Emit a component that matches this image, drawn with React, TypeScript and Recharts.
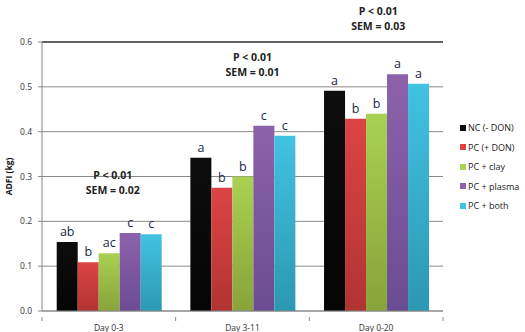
import React from 'react';
import {
  BarChart,
  Bar,
  XAxis,
  YAxis,
  CartesianGrid,
  ReferenceLine,
  ReferenceDot,
  LabelList,
} from 'recharts';

const periods = ['Day 0-3', 'Day 3-11', 'Day 0-20'];
const ncDon = [0.154, 0.342, 0.491];
const pcDon = [0.109, 0.275, 0.429];
const pcClay = [0.129, 0.3, 0.44];
const pcPlasma = [0.174, 0.413, 0.528];
const pcBoth = [0.171, 0.391, 0.507];

const ncLetters = ['ab', 'a', 'a'];
const pcLetters = ['b', 'b', 'b'];
const clayLetters = ['ac', 'b', 'b'];
const plasmaLetters = ['c', 'c', 'a'];
const bothLetters = ['c', 'c', 'a'];

const pValues = ['P < 0.01', 'P < 0.01', 'P < 0.01'];
const semValues = ['SEM = 0.02', 'SEM = 0.01', 'SEM = 0.03'];
const noteY = [0.302, 0.565, 0.667];
const yTicks = [0, 0.1, 0.2, 0.3, 0.4, 0.5, 0.6];

const seriesNames = ['NC (- DON)', 'PC (+ DON)', 'PC + clay', 'PC + plasma', 'PC + both'];
const seriesTop = ['#0d0d0d', '#dc4444', '#a9d152', '#8c62ab', '#42c2e2'];
const seriesBottom = ['#050505', '#b23333', '#88a33a', '#6b4c92', '#2b98b2'];

const data = periods.map((p, i) => ({
  period: p,
  nc: ncDon[i],
  pc: pcDon[i],
  clay: pcClay[i],
  plasma: pcPlasma[i],
  both: pcBoth[i],
  ncL: ncLetters[i],
  pcL: pcLetters[i],
  clayL: clayLetters[i],
  plasmaL: plasmaLetters[i],
  bothL: bothLetters[i],
}));

const keys = ['nc', 'pc', 'clay', 'plasma', 'both'];

const font = '"Open Sans", sans-serif';

const XTick = (props: any) => {
  const { x, y, payload, index } = props;
  const half = payload.offset || 66.8;
  return (
    <g>
      <line x1={x - half} x2={x - half} y1={y - 2} y2={y + 2} stroke="#888" />
      {index === periods.length - 1 && (
        <line x1={x + half} x2={x + half} y1={y - 2} y2={y + 2} stroke="#888" />
      )}
      <text x={x} y={y + 12} textAnchor="middle" fontSize={8.5} fill="#333" fontFamily={font}>
        {payload.value}
      </text>
    </g>
  );
};

const Note = (i: number) => (props: any) => {
  const { viewBox } = props;
  const cx = viewBox.x + (i === 0 ? 4 : i === 1 ? 10 : 2);
  return (
    <text x={cx} y={viewBox.y} textAnchor="middle" fontSize={10.5} fontWeight="bold" fill="#222" fontFamily={font}>
      <tspan x={cx} dy={3}>{pValues[i]}</tspan>
      <tspan x={cx} dy={15}>{semValues[i]}</tspan>
    </text>
  );
};

export default function App() {
  return (
    <div style={{ position: 'absolute', left: 0, top: 0, width: 525, height: 332, background: '#fff' }}>
      <BarChart
        width={525}
        height={332}
        data={data}
        margin={{ top: 42, right: 82, bottom: 0, left: 0 }}
        barCategoryGap="11%"
        barGap={0}
      >
        <defs>
          {keys.map((k, i) => (
            <linearGradient key={k} id={`g-${k}`} x1="0" y1="0" x2="0" y2="1">
              <stop offset="0%" stopColor={seriesTop[i]} />
              <stop offset="100%" stopColor={seriesBottom[i]} />
            </linearGradient>
          ))}
        </defs>
        <CartesianGrid vertical={false} stroke="#8a8a8a" />
        <XAxis
          dataKey="period"
          height={21}
          stroke="#888"
          tickLine={false}
          tick={<XTick />}
          interval={0}
        />
        <XAxis xAxisId="top" orientation="top" height={0} stroke="#000" tick={false} tickLine={false} />
        <YAxis
          domain={[0, 0.6]}
          ticks={yTicks}
          width={42}
          stroke="#888"
          tickSize={4}
          tickMargin={6}
          tickFormatter={(v: number) => v.toFixed(1)}
          tick={{ fontSize: 8.5, fill: '#333', fontFamily: font }}
          label={{
            value: 'ADFI (kg)',
            angle: -90,
            position: 'insideLeft',
            offset: 9,
            style: { fontSize: 8.5, fontWeight: 'bold', fill: '#111', fontFamily: font, textAnchor: 'middle' },
          }}
        />
        <YAxis yAxisId="right" orientation="right" width={0} domain={[0, 0.6]} stroke="#000" tick={false} tickLine={false} />
        <ReferenceLine y={0.6} stroke="#000" />
        {keys.map((k, i) => (
          <Bar key={k} dataKey={k} name={seriesNames[i]} fill={`url(#g-${k})`} isAnimationActive={false}>
            <LabelList
              dataKey={`${k}L`}
              position="top"
              offset={6}
              style={{ fontSize: 12.5, fill: '#1a2844', fontFamily: font }}
            />
          </Bar>
        ))}
        {periods.map((p, i) => (
          <ReferenceDot key={p} x={p} y={noteY[i]} r={0} ifOverflow="visible" label={Note(i)} />
        ))}
      </BarChart>
      <div style={{ position: 'absolute', left: 460, top: 118, fontFamily: font, fontSize: 9, color: '#222' }}>
        {seriesNames.map((n, i) => (
          <div key={n} style={{ display: 'flex', alignItems: 'center', height: 19.5 }}>
            <span style={{ width: 6, height: 6, background: seriesTop[i], marginRight: 2, display: 'inline-block' }} />
            <span>{n}</span>
          </div>
        ))}
      </div>
    </div>
  );
}
